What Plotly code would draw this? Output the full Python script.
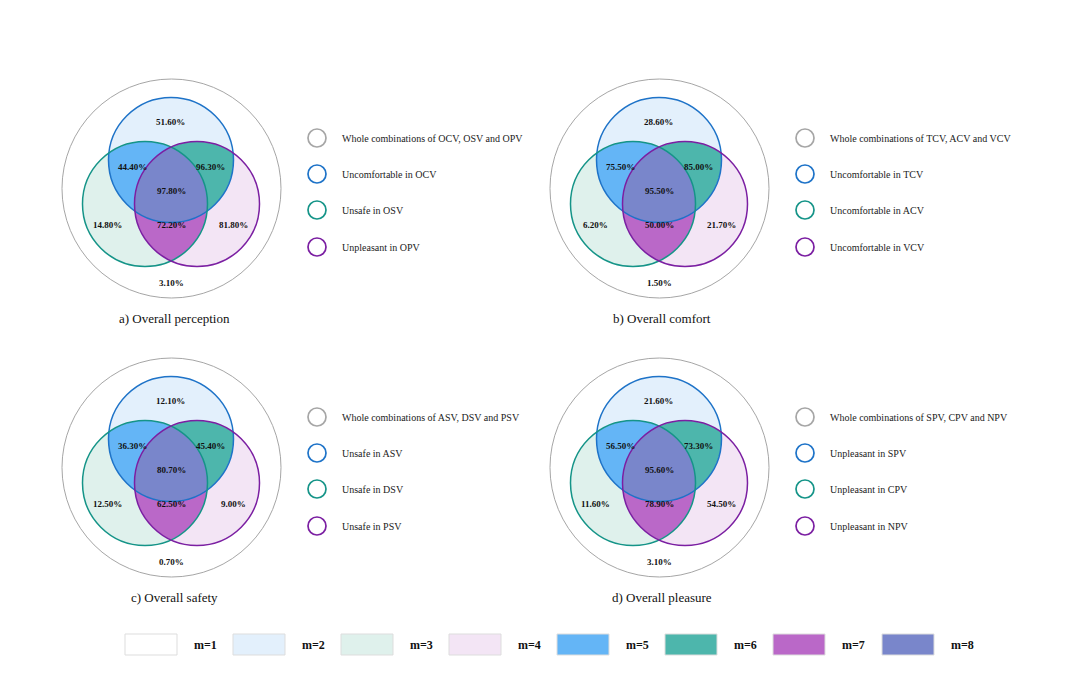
import numpy as np
import plotly.graph_objects as go

# ---------------- data ----------------
panel_titles = ["a) Overall perception", "b) Overall comfort", "c) Overall safety", "d) Overall pleasure"]
# region order: only A, A∩B, A∩C, A∩B∩C, only B, B∩C, only C, none
values_a = [51.60, 44.40, 96.30, 97.80, 14.80, 72.20, 81.80, 3.10]
values_b = [28.60, 75.50, 85.00, 95.50, 6.20, 50.00, 21.70, 1.50]
values_c = [12.10, 36.30, 45.40, 80.70, 12.50, 62.50, 9.00, 0.70]
values_d = [21.60, 56.50, 73.30, 95.60, 11.60, 78.90, 54.50, 3.10]
legend_a = ["Whole combinations of OCV, OSV and OPV", "Uncomfortable in OCV", "Unsafe in OSV", "Unpleasant in OPV"]
legend_b = ["Whole combinations of TCV, ACV and VCV", "Uncomfortable in TCV", "Uncomfortable in ACV", "Uncomfortable in VCV"]
legend_c = ["Whole combinations of ASV, DSV and PSV", "Unsafe in ASV", "Unsafe in DSV", "Unsafe in PSV"]
legend_d = ["Whole combinations of SPV, CPV and NPV", "Unpleasant in SPV", "Unpleasant in CPV", "Unpleasant in NPV"]
m_labels = ["m=1", "m=2", "m=3", "m=4", "m=5", "m=6", "m=7", "m=8"]
m_colors = ["#FFFFFF", "#E3F0FC", "#DFF1EC", "#F3E5F5", "#64B5F6", "#4DB6AC", "#BA68C8", "#7986CB"]

# ---------------- styles / layout ----------------
W, H = 1080, 675
PAGE_MARGIN = 8  # default body margin of the html page
FONT = "Liberation Serif, Times New Roman, serif"
outline_colors = ["#A6A6A6", "#1E73C8", "#159488", "#7B1FA2"]  # outer, A, B, C
panel_offsets = [(0, 0), (488, 0), (0, 279), (488, 279)]
outer = (171.5, 188.5, 109.5)
circA = (171, 160, 62.5)
circB = (145, 204, 62.5)
circC = (197, 204, 62.5)
label_pos = [(170, 122), (132, 167), (210, 167), (171, 191), (107, 225), (171, 225), (233, 225), (171, 283)]
title_pos = (174, 318)
leg_circle_x, leg_text_x = 317, 340
leg_ys = [138, 174, 210, 247]

fig = go.Figure()
shapes, annotations = [], []


def inside(p, c, tol=1e-6):
    return (p[0] - c[0]) ** 2 + (p[1] - c[1]) ** 2 <= c[2] ** 2 + tol


def intersection_polygon(circles, n=1440):
    pts = []
    for i, c in enumerate(circles):
        t = np.linspace(0, 2 * np.pi, n, endpoint=False)
        xs = c[0] + c[2] * np.cos(t)
        ys = c[1] + c[2] * np.sin(t)
        for x, y in zip(xs, ys):
            if all(inside((x, y), o, 1e-3) for j, o in enumerate(circles) if j != i):
                pts.append((x, y))
    for i in range(len(circles)):
        for j in range(i + 1, len(circles)):
            c1, c2 = circles[i], circles[j]
            dx, dy = c2[0] - c1[0], c2[1] - c1[1]
            d = np.hypot(dx, dy)
            a = (c1[2] ** 2 - c2[2] ** 2 + d ** 2) / (2 * d)
            h = np.sqrt(max(c1[2] ** 2 - a ** 2, 0))
            mx, my = c1[0] + a * dx / d, c1[1] + a * dy / d
            for s in (1, -1):
                p = (mx - s * h * dy / d, my + s * h * dx / d)
                if all(inside(p, o, 1e-2) for o in circles):
                    pts.append(p)
    pts = np.array(pts)
    cx, cy = pts.mean(axis=0)
    order = np.argsort(np.arctan2(pts[:, 1] - cy, pts[:, 0] - cx))
    pts = pts[order]
    return np.append(pts[:, 0], pts[0, 0]), np.append(pts[:, 1], pts[0, 1])


def circle_poly(c, n=720):
    t = np.linspace(0, 2 * np.pi, n)
    return c[0] + c[2] * np.cos(t), c[1] + c[2] * np.sin(t)


def add_fill(xs, ys, color):
    fig.add_trace(go.Scatter(x=xs, y=ys, mode="lines", fill="toself", fillcolor=color,
                             line=dict(width=0, color=color), hoverinfo="skip", showlegend=False))


all_values = [values_a, values_b, values_c, values_d]
all_legends = [legend_a, legend_b, legend_c, legend_d]

for k in range(4):
    ox, oy = panel_offsets[k]
    sh = lambda c: (c[0] + ox, c[1] + oy, c[2])
    A, B, C, O = sh(circA), sh(circB), sh(circC), sh(outer)
    add_fill(*circle_poly(O), m_colors[0])
    add_fill(*circle_poly(A), m_colors[1])
    add_fill(*circle_poly(B), m_colors[2])
    add_fill(*circle_poly(C), m_colors[3])
    add_fill(*intersection_polygon([A, B]), m_colors[4])
    add_fill(*intersection_polygon([A, C]), m_colors[5])
    add_fill(*intersection_polygon([B, C]), m_colors[6])
    add_fill(*intersection_polygon([A, B, C]), m_colors[7])
    for c, col, w in [(O, outline_colors[0], 1), (A, outline_colors[1], 1.5),
                      (B, outline_colors[2], 1.5), (C, outline_colors[3], 1.5)]:
        shapes.append(dict(type="circle", xref="x", yref="y", x0=c[0] - c[2], x1=c[0] + c[2],
                           y0=c[1] - c[2], y1=c[1] + c[2], line=dict(color=col, width=w),
                           fillcolor="rgba(0,0,0,0)", layer="above"))
    for (lx, ly), v in zip(label_pos, all_values[k]):
        annotations.append(dict(x=lx + ox, y=ly + oy, xref="x", yref="y", text=f"<b>{v:.2f}%</b>",
                                showarrow=False, font=dict(family=FONT, size=9, color="#111")))
    annotations.append(dict(x=title_pos[0] + ox, y=title_pos[1] + oy, xref="x", yref="y",
                            text=panel_titles[k], showarrow=False,
                            font=dict(family=FONT, size=13, color="#111")))
    for i, (txt, ly) in enumerate(zip(all_legends[k], leg_ys)):
        cx, cy = leg_circle_x + ox, ly + oy
        shapes.append(dict(type="circle", xref="x", yref="y", x0=cx - 9, x1=cx + 9, y0=cy - 9, y1=cy + 9,
                           line=dict(color=outline_colors[i], width=1.7), fillcolor="white"))
        annotations.append(dict(x=leg_text_x + ox, y=cy, xref="x", yref="y", text=txt, showarrow=False,
                                xanchor="left", font=dict(family=FONT, size=10, color="#222")))

rect_x0 = [125, 233, 341, 449, 557, 665, 773, 882]
for i, (lab, col) in enumerate(zip(m_labels, m_colors)):
    x0 = rect_x0[i]
    shapes.append(dict(type="rect", xref="x", yref="y", x0=x0, x1=x0 + 52, y0=634, y1=655,
                       line=dict(color="#DDDDDD", width=1), fillcolor=col))
    annotations.append(dict(x=x0 + 80, y=644.5, xref="x", yref="y", text=f"<b>{lab}</b>", showarrow=False,
                            font=dict(family=FONT, size=12, color="#111")))

fig.update_layout(
    width=W, height=H, autosize=False,
    margin=dict(l=0, r=0, t=0, b=0),
    paper_bgcolor="white", plot_bgcolor="white",
    xaxis=dict(range=[PAGE_MARGIN, W + PAGE_MARGIN], visible=False, fixedrange=True),
    yaxis=dict(range=[H + PAGE_MARGIN, PAGE_MARGIN], visible=False, fixedrange=True),
    shapes=shapes, annotations=annotations, showlegend=False,
)
fig.write_html("out.html")
